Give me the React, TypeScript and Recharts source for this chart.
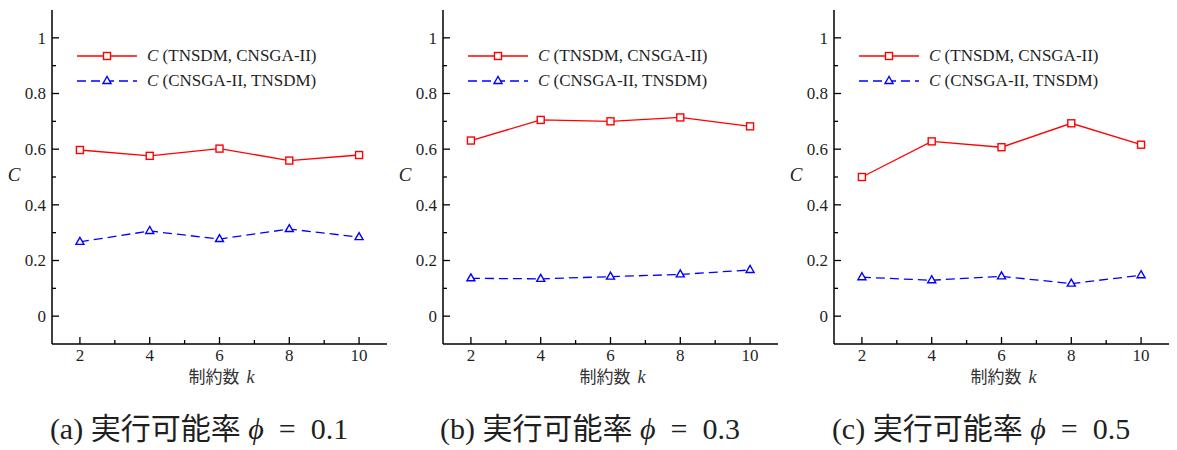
import React from 'react';
import { LineChart, Line, XAxis, YAxis, Legend, Label } from 'recharts';

// constraint count k
const kValues = [2, 4, 6, 8, 10];
const xTicks = [2, 3, 4, 5, 6, 7, 8, 9, 10];
const yTicks = [0, 0.1, 0.2, 0.3, 0.4, 0.5, 0.6, 0.7, 0.8, 0.9, 1];

const seriesKeys = ['tc', 'ct'];
const seriesNames = ['C (TNSDM, CNSGA-II)', 'C (CNSGA-II, TNSDM)'];

// phi = 0.1
const phi01TC = [0.597, 0.576, 0.602, 0.559, 0.579];
const phi01CT = [0.267, 0.306, 0.277, 0.313, 0.284];
// phi = 0.3
const phi03TC = [0.631, 0.705, 0.7, 0.714, 0.682];
const phi03CT = [0.136, 0.134, 0.142, 0.15, 0.166];
// phi = 0.5
const phi05TC = [0.5, 0.628, 0.607, 0.693, 0.616];
const phi05CT = [0.14, 0.129, 0.143, 0.117, 0.147];

const captions = [
  { tag: '(a)', phi: '0.1' },
  { tag: '(b)', phi: '0.3' },
  { tag: '(c)', phi: '0.5' },
];

const RED = '#ff0000';
const BLUE = '#0000ff';
const INK = '#1f1f1f';
const SERIF = "'Liberation Serif', 'Times New Roman', serif";
const CJK = "'Noto Sans CJK JP', sans-serif";
const GAP = 4;
const MAJOR = 7;
const MINOR = 4;

const isMajorY = (v: number) => Math.round(v * 10) % 2 === 0;

const LeftTick = (props: any) => {
  const { x, y, payload } = props;
  const major = isMajorY(payload.value);
  return (
    <g>
      <line x1={x + GAP} x2={x + GAP + (major ? MAJOR : MINOR)} y1={y} y2={y} stroke="#000" strokeWidth={1.3} />
      {major && (
        <text x={x - 2} y={y} dy="0.35em" textAnchor="end" fill={INK} fontSize={17} fontFamily={SERIF}>
          {String(Math.round(payload.value * 10) / 10)}
        </text>
      )}
    </g>
  );
};

const RightTick = (props: any) => {
  const { x, y, payload } = props;
  const len = isMajorY(payload.value) ? MAJOR : MINOR;
  return <line x1={x} x2={x - len} y1={y} y2={y} stroke="#000" strokeWidth={1.3} />;
};

const BottomTick = (props: any) => {
  const { x, y, payload } = props;
  const major = payload.value % 2 === 0;
  return (
    <g>
      <line x1={x} x2={x} y1={y - GAP} y2={y - GAP - (major ? MAJOR : MINOR)} stroke="#000" strokeWidth={1.3} />
      {major && (
        <text x={x} y={y} dy="0.75em" textAnchor="middle" fill={INK} fontSize={17} fontFamily={SERIF}>
          {payload.value}
        </text>
      )}
    </g>
  );
};

const TopTick = (props: any) => {
  const { x, y, payload } = props;
  const len = payload.value % 2 === 0 ? MAJOR : MINOR;
  return <line x1={x} x2={x} y1={y} y2={y + len} stroke="#000" strokeWidth={1.3} />;
};

const SquareDot = (props: any) => {
  const { cx, cy, index } = props;
  if (cx == null || cy == null) return null;
  return <rect key={`sq-${index}`} x={cx - 3.5} y={cy - 3.5} width={7} height={7} fill="#fff" stroke={RED} strokeWidth={1.4} />;
};

const TriangleDot = (props: any) => {
  const { cx, cy, index } = props;
  if (cx == null || cy == null) return null;
  return (
    <polygon
      key={`tr-${index}`}
      points={`${cx},${cy - 4.5} ${cx - 4},${cy + 2.5} ${cx + 4},${cy + 2.5}`}
      fill="#fff"
      stroke={BLUE}
      strokeWidth={1.4}
    />
  );
};

const renderLegend = (props: any) => {
  const items = [...(props.payload || [])].sort(
    (a: any, b: any) => seriesKeys.indexOf(a.dataKey) - seriesKeys.indexOf(b.dataKey)
  );
  return (
    <div>
      {items.map((item: any, i: number) => {
        const isRed = item.dataKey === 'tc';
        const name = String(item.value);
        return (
          <div key={i} style={{ display: 'flex', alignItems: 'center', height: 25 }}>
            <svg width={60} height={12} style={{ overflow: 'visible' }}>
              <line x1={0} x2={60} y1={6} y2={6} stroke={item.color} strokeWidth={1.3} strokeDasharray={isRed ? undefined : '9 5'} />
              {isRed ? (
                <rect x={26.5} y={2.5} width={7} height={7} fill="#fff" stroke={RED} strokeWidth={1.4} />
              ) : (
                <polygon points="30,1.5 26,8.5 34,8.5" fill="#fff" stroke={BLUE} strokeWidth={1.4} />
              )}
            </svg>
            <span style={{ marginLeft: 10, fontFamily: SERIF, fontSize: 17, color: INK, whiteSpace: 'nowrap' }}>
              <i>{name.charAt(0)}</i>
              {name.slice(1)}
            </span>
          </div>
        );
      })}
    </div>
  );
};

const XLabel = (props: any) => {
  const { viewBox } = props;
  const cx = viewBox.x + viewBox.width / 2 + 2;
  const y = viewBox.y + 39;
  return (
    <text x={cx} y={y} textAnchor="middle" fill="#333">
      <tspan fontFamily={CJK} fontSize={17}>制約数 </tspan>
      <tspan fontFamily={SERIF} fontStyle="italic" fontSize={18} dx={3}>k</tspan>
    </text>
  );
};

const YLabel = (props: any) => {
  const { viewBox } = props;
  return (
    <text x={14} y={viewBox.y + viewBox.height / 2 - 3} dy="0.35em" textAnchor="middle" fill={INK} fontFamily={SERIF} fontStyle="italic" fontSize={19}>
      C
    </text>
  );
};

interface PanelProps {
  left: number;
  tc: number[];
  ct: number[];
  tag: string;
  phi: string;
}

const Panel: React.FC<PanelProps> = ({ left, tc, ct, tag, phi }) => {
  const data = kValues.map((k, i) => ({ k, tc: tc[i], ct: ct[i] }));
  return (
    <div style={{ position: 'absolute', left, top: 0, width: 392, height: 450 }}>
      <LineChart width={392} height={450} data={data} margin={{ top: 10, right: 5, bottom: 60, left: 0 }}>
        <XAxis
          xAxisId="b"
          dataKey="k"
          type="number"
          domain={[1.2, 10.8]}
          allowDataOverflow
          ticks={xTicks}
          interval={0}
          height={46}
          tickSize={0}
          tickMargin={GAP}
          tickLine={false}
          axisLine={{ stroke: '#000', strokeWidth: 1.5 }}
          tick={<BottomTick />}
        >
          <Label content={<XLabel />} />
        </XAxis>
        <XAxis
          xAxisId="t"
          orientation="top"
          dataKey="k"
          type="number"
          domain={[1.2, 10.8]}
          allowDataOverflow
          ticks={xTicks}
          interval={0}
          height={0}
          tickSize={0}
          tickMargin={0}
          tickLine={false}
          axisLine={{ stroke: '#000', strokeWidth: 1.5 }}
          tick={<TopTick />}
        />
        <YAxis
          yAxisId="l"
          type="number"
          domain={[-0.1, 1.1]}
          allowDataOverflow
          ticks={yTicks}
          interval={0}
          width={52}
          tickSize={0}
          tickMargin={GAP}
          tickLine={false}
          axisLine={{ stroke: '#000', strokeWidth: 1.5 }}
          tick={<LeftTick />}
        >
          <Label content={<YLabel />} />
        </YAxis>
        <YAxis
          yAxisId="r"
          orientation="right"
          type="number"
          domain={[-0.1, 1.1]}
          allowDataOverflow
          ticks={yTicks}
          interval={0}
          width={0}
          tickSize={0}
          tickMargin={0}
          tickLine={false}
          axisLine={{ stroke: '#000', strokeWidth: 1.5 }}
          tick={<RightTick />}
        />
        <Legend
          layout="vertical"
          align="center"
          verticalAlign="middle"
          content={renderLegend}
          wrapperStyle={{ left: 77, top: 43, width: 300 }}
        />
        <Line
          xAxisId="b"
          yAxisId="l"
          dataKey="tc"
          name={seriesNames[0]}
          stroke={RED}
          strokeWidth={1.3}
          dot={<SquareDot />}
          isAnimationActive={false}
        />
        <Line
          xAxisId="b"
          yAxisId="l"
          dataKey="ct"
          name={seriesNames[1]}
          stroke={BLUE}
          strokeWidth={1.3}
          strokeDasharray="9 5"
          dot={<TriangleDot />}
          isAnimationActive={false}
        />
      </LineChart>
      <div
        style={{
          position: 'absolute',
          left: 0,
          width: 398,
          top: 412,
          textAlign: 'center',
          fontFamily: "'Liberation Serif', 'Noto Sans CJK JP', serif",
          fontSize: 30,
          lineHeight: '34px',
          color: INK,
          whiteSpace: 'nowrap',
        }}
      >
        {tag} 実行可能率 <i>ϕ</i>{'\u2002=\u2002'}{phi}
      </div>
    </div>
  );
};

export default function App() {
  return (
    <div style={{ position: 'absolute', left: 0, top: 0, width: 1177, height: 450, background: '#fff', overflow: 'hidden' }}>
      <Panel left={0} tc={phi01TC} ct={phi01CT} tag={captions[0].tag} phi={captions[0].phi} />
      <Panel left={391} tc={phi03TC} ct={phi03CT} tag={captions[1].tag} phi={captions[1].phi} />
      <Panel left={782} tc={phi05TC} ct={phi05CT} tag={captions[2].tag} phi={captions[2].phi} />
    </div>
  );
}
